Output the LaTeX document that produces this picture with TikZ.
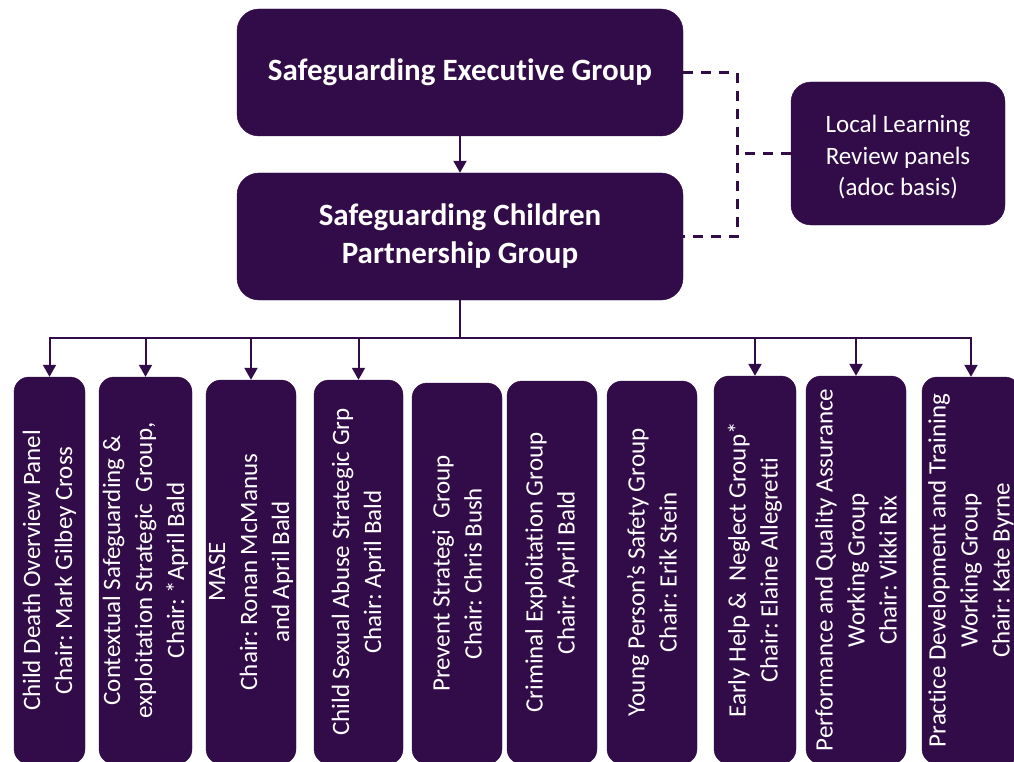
\documentclass[tikz,border=0pt]{standalone}
\usepackage{fontspec}
\setmainfont{Carlito}[Ligatures=NoCommon]
\usetikzlibrary{arrows.meta}
\frenchspacing
\definecolor{plum}{RGB}{50,12,72}
\tikzset{
  topbox/.style={fill=plum, draw=plum, rounded corners=22pt, text=white, font=\fontsize{31}{38}\selectfont\bfseries, align=center, inner sep=0pt},
  sidebox/.style={fill=plum, draw=plum, rounded corners=20pt, text=white, font=\fontsize{25}{31.5}\selectfont, align=center, inner sep=0pt},
  subbox/.style={fill=plum, draw=plum, rounded corners=15pt, inner sep=0pt},
  subtxt/.style={rotate=90, text=white, font=\fontsize{25}{32}\selectfont, align=center, inner sep=0pt},
  conn/.style={draw=plum, line width=2pt, -{Triangle[length=12pt,width=13pt]}},
  plain/.style={draw=plum, line width=2pt},
  dashlink/.style={draw=plum, line width=3pt, dash pattern=on 10pt off 8pt}
}
\newcommand{\subnode}[5]{%
  \node[subbox, minimum width=#3pt-#2pt, minimum height=764pt-#4pt] (#1) at ({(#2+#3)/2},{(#4+764)/2}) {};
  \node[subtxt] at (#1) {#5};}
\begin{document}
\begin{tikzpicture}[x=1pt,y=-1pt]
\useasboundingbox (0,0) rectangle (1014,762);
% top boxes
\node[topbox, minimum width=446pt, minimum height=127pt] (seg) at (460,72.5) {Safeguarding Execut\kern0pt ive Group};
\node[topbox, minimum width=446pt, minimum height=127pt] (scpg) at (460,236.5) {Safeguarding Children\\Partnership Group};
\node[sidebox, minimum width=214pt, minimum height=143pt] (llr) at (898,153.5) {\rule{0pt}{25pt}Local Learning\\Review panels\\(adoc basis)};
% sub boxes: name, left, right, top ; bottom 764
\subnode{b1}{14}{85}{377}{Child Death Overview Panel\\Chair: Mark Gilbey Cross}
\subnode{b2}{99}{192}{377}{Contextual Safeguarding \&\\exploitat\kern0pt ion Strategic\ \ Group,\\Chair: *April Bald}
\subnode{b3}{206}{296}{380}{MASE\\Chair: Ronan McManus\\and April Bald}
\subnode{b4}{314}{403}{380}{Child Sexual Abuse Strategic Grp\\Chair: April Bald}
\subnode{b5}{412}{502}{383}{Prevent Strategi\ \ Group\\Chair: Chris Bush}
\subnode{b6}{507}{597}{381}{Criminal Exploitat\kern0pt ion Group\\Chair: April Bald}
\subnode{b7}{607}{697}{381}{Young Person’s Safety Group\\Chair: Erik Stein}
\subnode{b8}{714}{796}{376}{Early Help \&\ \ Neglect Group*\\Chair: Elaine Allegret\kern0pt t\kern0pt i}
\subnode{b9}{806}{906}{376}{Performance and Quality Assurance\\Working Group\\Chair: Vikki Rix}
\subnode{b10}{922}{1020}{377}{Practice Development and Training\\Working Group\\Chair: Kate Byrne}
% connectors
\draw[conn] (seg) -- (scpg);
\coordinate (bus) at (460,338);
\draw[plain] (scpg.south) -- (bus);
\foreach \b in {b1,b2,b3,b4,b8,b9,b10}{
  \draw[conn] (bus) -| (\b.north);
}
% dashed links
\coordinate (dj) at (737,153.5);
\draw[dashlink] (seg.east) -| (dj) |- (scpg.east);
\draw[dashlink] (llr.west) -- (dj);
\end{tikzpicture}
\end{document}
